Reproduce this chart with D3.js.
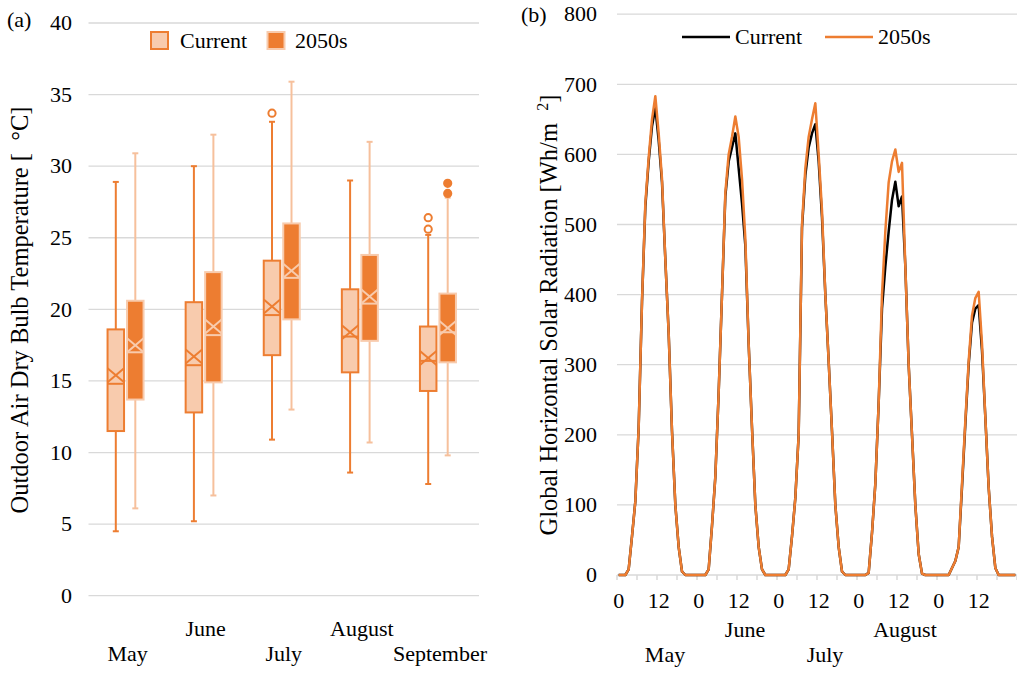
<!DOCTYPE html>
<html>
<head>
<meta charset="utf-8">
<script src="https://cdn.jsdelivr.net/npm/d3@7"></script>
<style>
  html, body { margin: 0; padding: 0; background: #fff; }
  svg { display: block; font-family: "Liberation Serif", "Times New Roman", serif; }
</style>
</head>
<body>
<svg id="chart" width="1017" height="673"></svg>
<script>
// ---------------- DATA ----------------
const months = ["May", "June", "July", "August", "September"];
const tempTicks = [0, 5, 10, 15, 20, 25, 30, 35, 40];

// (a) Box plot – Current
const curMin  = [4.5, 5.2, 10.9, 8.6, 7.8];
const curQ1   = [11.5, 12.8, 16.8, 15.6, 14.3];
const curMed  = [14.8, 16.1, 19.6, 18.1, 16.4];
const curMean = [15.4, 16.7, 20.2, 18.4, 16.6];
const curQ3   = [18.6, 20.5, 23.4, 21.4, 18.8];
const curMax  = [28.9, 30.0, 33.1, 29.0, 25.2];
const curOut  = [[], [], [33.7], [], [25.6, 26.4]];

// (a) Box plot – 2050s
const futMin  = [6.1, 7.0, 13.0, 10.7, 9.8];
const futQ1   = [13.7, 14.9, 19.3, 17.8, 16.3];
const futMed  = [17.0, 18.2, 22.2, 20.4, 18.4];
const futMean = [17.5, 18.8, 22.7, 20.9, 18.7];
const futQ3   = [20.6, 22.6, 26.0, 23.8, 21.1];
const futMax  = [30.9, 32.2, 35.9, 31.7, 27.8];
const futOut  = [[], [], [], [], [28.1, 28.8]];

// (b) Hourly global horizontal solar radiation, one day per month
const radTicks = [0, 100, 200, 300, 400, 500, 600, 700, 800];
const hourLabels = ["0", "12"];
const curMay  = [0,0,0,8,55,105,210,390,525,590,640,667,620,560,450,345,205,100,40,5,0,0,0,0];
const curJun  = [0,0,0,8,70,140,260,400,540,590,610,630,580,530,470,330,210,100,40,8,0,0,0,0];
const curJul  = [0,0,0,8,55,110,200,495,570,610,630,643,590,510,400,305,205,100,40,5,0,0,0,0];
const curAug  = [0,0,0,3,60,130,245,380,440,490,535,561,526,540,440,300,200,100,30,2,0,0,0,0];
const curSep  = [0,0,0,0,10,20,40,125,215,300,360,380,385,320,225,125,55,10,0,0,0,0,0,0];
const futMay  = [0,0,0,8,55,105,210,390,530,595,650,683,630,565,450,345,205,100,40,5,0,0,0,0];
const futJun  = [0,0,0,8,70,140,260,400,545,600,625,654,625,565,480,330,210,100,40,8,0,0,0,0];
const futJul  = [0,0,0,8,55,110,200,500,580,625,650,673,600,520,400,305,205,100,40,5,0,0,0,0];
const futAug  = [0,0,0,3,60,130,245,400,490,560,590,607,575,588,440,300,200,100,30,2,0,0,0,0];
const futSep  = [0,0,0,0,10,20,40,130,220,305,370,395,404,330,225,125,55,10,0,0,0,0,0,0];
const radCurrent = [].concat(curMay, curJun, curJul, curAug, curSep);
const radFuture  = [].concat(futMay, futJun, futJul, futAug, futSep);
const radMonths = ["May", "June", "July", "August"];

// ---------------- STYLE ----------------
const ORANGE = "#ed7d31";
const LIGHT = "#f8cbad";
const LIGHTLINE = "#f6c09c";
const GRID = "#d9d9d9";
const FS = 22;
const TITLE_FS = 24.5;

const svg = d3.select("#chart");
svg.append("rect").attr("width", 1017).attr("height", 673).attr("fill", "#fff");

// ================= (a) =================
const aLeft = 88.5, aRight = 479, aTop = 23, aBottom = 595.7;
const yA = d3.scaleLinear().domain([0, 40]).range([aBottom, aTop]);
const xA = d3.scaleBand().domain(months).range([aLeft, aRight]);
const gA = svg.append("g");

gA.selectAll("line.grid").data(tempTicks).join("line")
  .attr("x1", aLeft).attr("x2", aRight)
  .attr("y1", d => yA(d)).attr("y2", d => yA(d))
  .attr("stroke", GRID).attr("stroke-width", 1.3);

gA.selectAll("text.ytick").data(tempTicks).join("text")
  .attr("x", 72).attr("y", d => yA(d)).attr("dy", "0.33em")
  .attr("text-anchor", "end").attr("font-size", FS).attr("fill", "#000")
  .text(d => d);

// month labels (staggered)
gA.selectAll("text.month").data(months).join("text")
  .attr("x", d => xA(d) + xA.bandwidth() / 2)
  .attr("y", (d, i) => i % 2 === 0 ? 661 : 636)
  .attr("text-anchor", "middle").attr("font-size", FS).text(d => d);

function drawBoxes(series, isCur) {
  const stroke = isCur ? ORANGE : LIGHT;
  const fill = isCur ? LIGHT : ORANGE;
  const whisk = isCur ? ORANGE : LIGHTLINE;
  const g = gA.append("g");
  const bw = 16.5;
  const bx = m => xA(m) + xA.bandwidth() / 2 - 2 + (isCur ? -18 : 1.5);
  const cx = m => bx(m) + bw / 2;
  const rows = months.map((m, i) => ({
    m, min: series.min[i], q1: series.q1[i], med: series.med[i],
    mean: series.mean[i], q3: series.q3[i], max: series.max[i], out: series.out[i]
  }));
  // whiskers
  g.selectAll("line.wu").data(rows).join("line")
    .attr("x1", d => cx(d.m)).attr("x2", d => cx(d.m))
    .attr("y1", d => yA(d.max)).attr("y2", d => yA(d.q3))
    .attr("stroke", whisk).attr("stroke-width", 2);
  g.selectAll("line.wl").data(rows).join("line")
    .attr("x1", d => cx(d.m)).attr("x2", d => cx(d.m))
    .attr("y1", d => yA(d.q1)).attr("y2", d => yA(d.min))
    .attr("stroke", whisk).attr("stroke-width", 2);
  g.selectAll("line.cu").data(rows).join("line")
    .attr("x1", d => cx(d.m) - 3).attr("x2", d => cx(d.m) + 3)
    .attr("y1", d => yA(d.max)).attr("y2", d => yA(d.max))
    .attr("stroke", whisk).attr("stroke-width", 2);
  g.selectAll("line.cl").data(rows).join("line")
    .attr("x1", d => cx(d.m) - 3).attr("x2", d => cx(d.m) + 3)
    .attr("y1", d => yA(d.min)).attr("y2", d => yA(d.min))
    .attr("stroke", whisk).attr("stroke-width", 2);
  // box
  g.selectAll("rect").data(rows).join("rect")
    .attr("x", d => bx(d.m)).attr("width", bw)
    .attr("y", d => yA(d.q3)).attr("height", d => yA(d.q1) - yA(d.q3))
    .attr("fill", fill).attr("stroke", stroke).attr("stroke-width", 2);
  // median
  g.selectAll("line.med").data(rows).join("line")
    .attr("x1", d => bx(d.m)).attr("x2", d => bx(d.m) + bw)
    .attr("y1", d => yA(d.med)).attr("y2", d => yA(d.med))
    .attr("stroke", stroke).attr("stroke-width", 2);
  // mean X
  const xs = rows.map(d => [
    [bx(d.m), yA(d.mean) - 7, bx(d.m) + bw, yA(d.mean) + 7],
    [bx(d.m), yA(d.mean) + 7, bx(d.m) + bw, yA(d.mean) - 7]
  ]).flat();
  g.selectAll("line.mx").data(xs).join("line")
    .attr("x1", d => d[0]).attr("y1", d => d[1])
    .attr("x2", d => d[2]).attr("y2", d => d[3])
    .attr("stroke", stroke).attr("stroke-width", 2);
  // outliers
  const outs = rows.flatMap(d => d.out.map(v => ({ m: d.m, v })));
  g.selectAll("circle").data(outs).join("circle")
    .attr("cx", d => cx(d.m)).attr("cy", d => yA(d.v)).attr("r", 3.6)
    .attr("fill", isCur ? "#fff" : ORANGE)
    .attr("stroke", ORANGE).attr("stroke-width", 2);
}

drawBoxes({ min: curMin, q1: curQ1, med: curMed, mean: curMean, q3: curQ3, max: curMax, out: curOut }, true);
drawBoxes({ min: futMin, q1: futQ1, med: futMed, mean: futMean, q3: futQ3, max: futMax, out: futOut }, false);

// legend (a)
gA.append("rect").attr("x", 151).attr("y", 32).attr("width", 17).attr("height", 17)
  .attr("fill", LIGHT).attr("stroke", ORANGE).attr("stroke-width", 2);
gA.append("text").attr("x", 180).attr("y", 48).attr("font-size", FS).text("Current");
gA.append("rect").attr("x", 267.5).attr("y", 32).attr("width", 17).attr("height", 17)
  .attr("fill", ORANGE).attr("stroke", LIGHT).attr("stroke-width", 2);
gA.append("text").attr("x", 295).attr("y", 48).attr("font-size", FS).text("2050s");

// axis title (a)
svg.append("text")
  .attr("transform", "translate(28,310) rotate(-90)")
  .attr("text-anchor", "middle").attr("font-size", TITLE_FS)
  .text("Outdoor Air Dry Bulb Temperature [\u00A0\u00A0°C]");
svg.append("text").attr("x", 7).attr("y", 27).attr("font-size", FS).text("(a)");

// ================= (b) =================
const bLeft = 617, bRight = 1017, bTop = 14.2, bBottom = 575;
const yB = d3.scaleLinear().domain([0, 800]).range([bBottom, bTop]);
const xB = d3.scaleLinear().domain([0, radCurrent.length]).range([bLeft, bRight]);
const gB = svg.append("g");

gB.selectAll("line.grid").data(radTicks.filter(d => d > 0)).join("line")
  .attr("x1", bLeft).attr("x2", bRight)
  .attr("y1", d => yB(d)).attr("y2", d => yB(d))
  .attr("stroke", GRID).attr("stroke-width", 1.3);
// x axis line + ticks every 6 hours
gB.append("line").attr("x1", bLeft).attr("x2", bRight)
  .attr("y1", yB(0)).attr("y2", yB(0)).attr("stroke", GRID).attr("stroke-width", 1.5);
const tickIdx = d3.range(0, radCurrent.length + 1, 6);
gB.selectAll("line.xt").data(tickIdx).join("line")
  .attr("x1", d => xB(d)).attr("x2", d => xB(d))
  .attr("y1", yB(0)).attr("y2", yB(0) + 5)
  .attr("stroke", GRID).attr("stroke-width", 1.5);

gB.selectAll("text.ytick").data(radTicks).join("text")
  .attr("x", 597).attr("y", d => yB(d)).attr("dy", "0.33em")
  .attr("text-anchor", "end").attr("font-size", FS).text(d => d);

const hourIdx = d3.range(0, radCurrent.length, 12);
gB.selectAll("text.hr").data(hourIdx).join("text")
  .attr("x", d => xB(d + 0.5)).attr("y", 608)
  .attr("text-anchor", "middle").attr("font-size", FS)
  .text((d, i) => hourLabels[i % 2]);

gB.selectAll("text.month").data(radMonths).join("text")
  .attr("x", (d, i) => xB(i * 24 + 12) + 8)
  .attr("y", (d, i) => i % 2 === 0 ? 662 : 637)
  .attr("text-anchor", "middle").attr("font-size", FS).text(d => d);

const line = d3.line().x((d, i) => xB(i + 0.5)).y(d => yB(d));
gB.append("path").datum(radCurrent).attr("d", line)
  .attr("fill", "none").attr("stroke", "#000").attr("stroke-width", 2.5)
  .attr("stroke-linejoin", "round");
gB.append("path").datum(radFuture).attr("d", line)
  .attr("fill", "none").attr("stroke", ORANGE).attr("stroke-width", 2.5)
  .attr("stroke-linejoin", "round");

// legend (b)
gB.append("line").attr("x1", 682).attr("x2", 730).attr("y1", 37).attr("y2", 37)
  .attr("stroke", "#000").attr("stroke-width", 2.5);
gB.append("text").attr("x", 735).attr("y", 44).attr("font-size", FS).text("Current");
gB.append("line").attr("x1", 825).attr("x2", 873).attr("y1", 37).attr("y2", 37)
  .attr("stroke", ORANGE).attr("stroke-width", 2.5);
gB.append("text").attr("x", 878).attr("y", 44).attr("font-size", FS).text("2050s");

// axis title (b)
const tb = svg.append("text")
  .attr("transform", "translate(557,315) rotate(-90)")
  .attr("text-anchor", "middle").attr("font-size", TITLE_FS);
tb.append("tspan").text("Global Horizontal Solar Radiation [Wh/m\u00A0\u00A0");
tb.append("tspan").attr("font-size", 16).attr("dy", -9).text("2");
tb.append("tspan").attr("dy", 9).text("]");
svg.append("text").attr("x", 521).attr("y", 22).attr("font-size", FS).text("(b)");
</script>
</body>
</html>
